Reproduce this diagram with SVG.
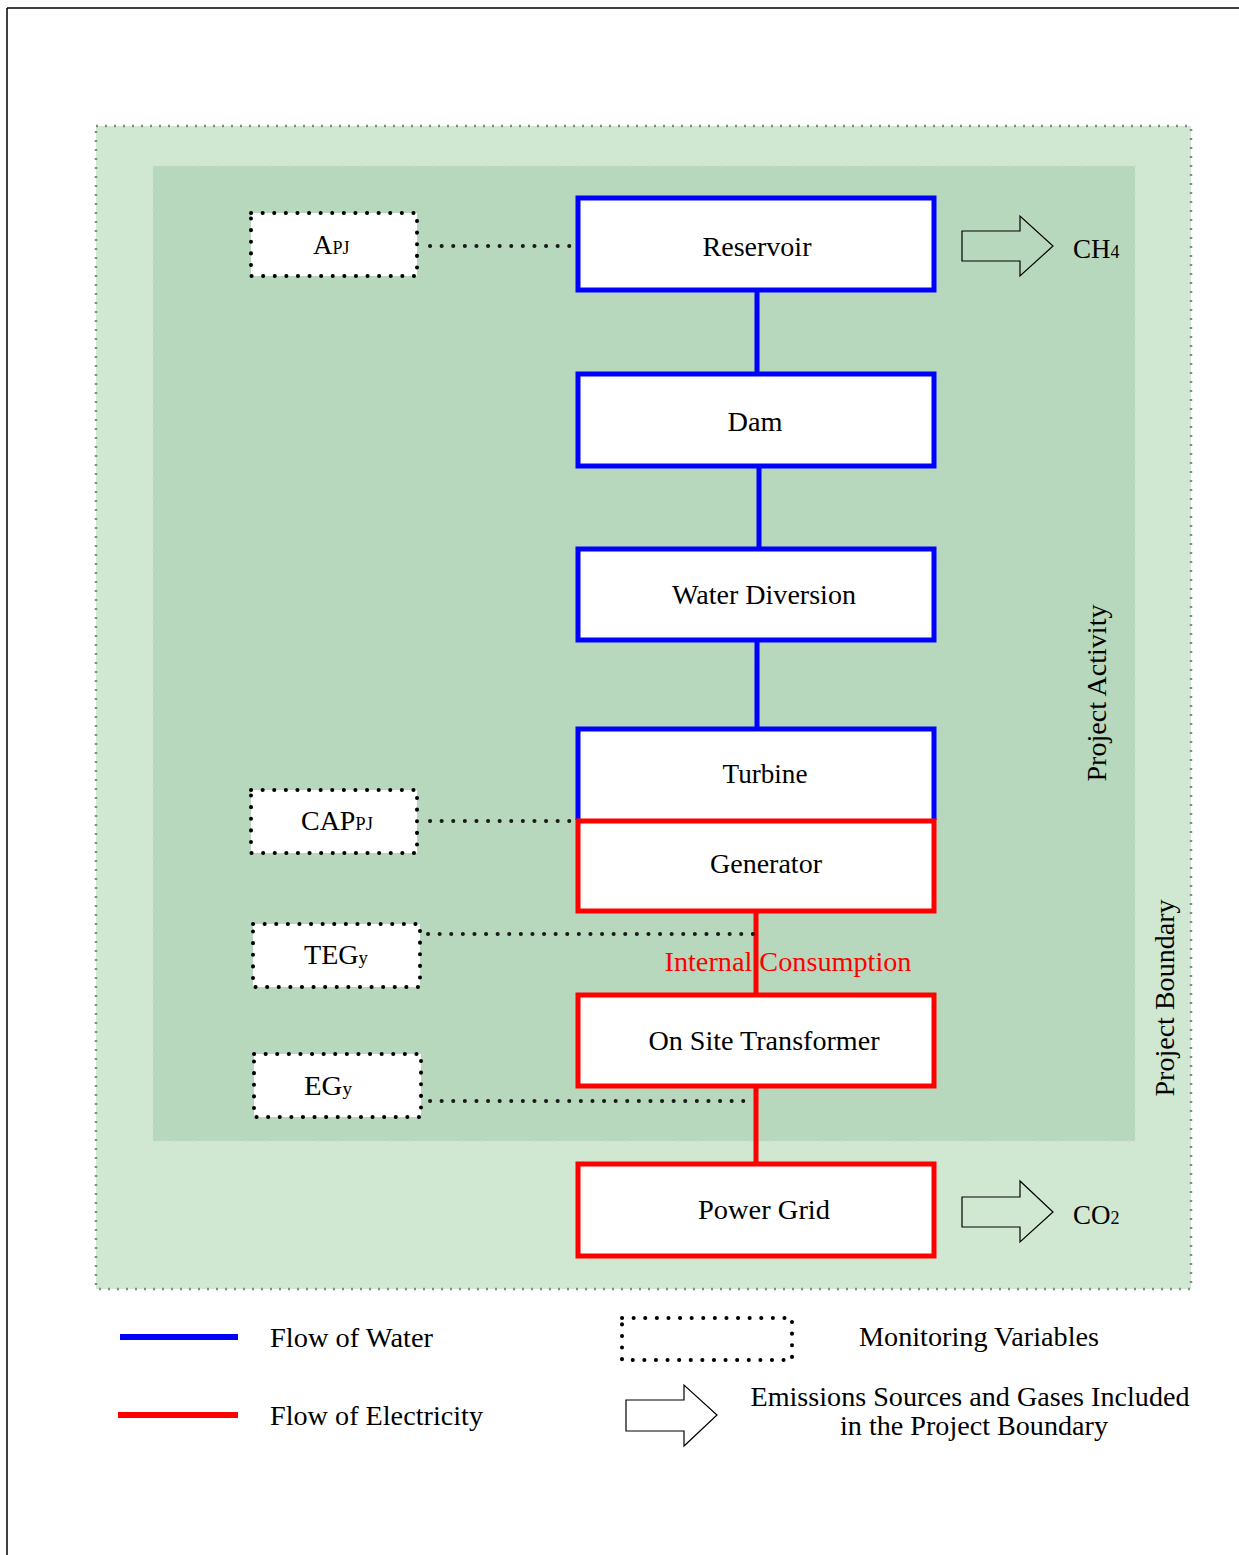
<svg xmlns="http://www.w3.org/2000/svg" width="1239" height="1555" viewBox="0 0 1239 1555" font-family="'Liberation Serif', 'DejaVu Serif', 'Times New Roman', serif">
<style>
text{font-family:'Liberation Serif','DejaVu Serif','Times New Roman',serif;fill:#000;font-size:27px;}
.lbl{text-anchor:middle;}
.sm{font-size:18px;}
.blue{fill:#fff;stroke:#0000ff;stroke-width:5;}
.red{fill:#fff;stroke:#ff0000;stroke-width:5;}
.mon{fill:#fff;stroke:#000;stroke-width:4;stroke-dasharray:0.1 11.5;stroke-linecap:round;}
.dot{stroke:#1a1a1a;stroke-width:4;stroke-dasharray:0.1 11.5;stroke-linecap:round;fill:none;}
.wl{stroke:#0000ff;stroke-width:5;}
.el{stroke:#ff0000;stroke-width:5;}
.arr{fill:none;stroke:#000;stroke-width:1.2;}
</style>
<rect x="0" y="0" width="1239" height="1555" fill="#fff"/>
<g id="frame">
<line x1="7" y1="8" x2="1239" y2="8" stroke="#000" stroke-width="1.5"/>
<line x1="7" y1="8" x2="7" y2="1555" stroke="#000" stroke-width="1.5"/>
</g>
<g id="project-boundary">
<rect x="96" y="126" width="1095" height="1163" fill="#d0e8d2" stroke="#888" stroke-width="2.5" stroke-dasharray="2 7"/>
<text x="1174" y="998" text-anchor="middle" transform="rotate(-90 1174 998)" textLength="197" lengthAdjust="spacingAndGlyphs">Project Boundary</text>
</g>
<g id="project-activity">
<rect x="153" y="166" width="982" height="975" fill="#b8d8bd" stroke="#c8dcc8" stroke-width="2" stroke-dasharray="2 7"/>
<text x="1106" y="693" text-anchor="middle" transform="rotate(-90 1106 693)" textLength="177" lengthAdjust="spacingAndGlyphs">Project Activity</text>
</g>
<g id="connectors">
<line class="wl" x1="757" y1="291" x2="757" y2="373"/>
<line class="wl" x1="759" y1="467" x2="759" y2="548"/>
<line class="wl" x1="757" y1="641" x2="757" y2="727"/>
<line class="el" x1="756" y1="912" x2="756" y2="994"/>
<line class="el" x1="756" y1="1087" x2="756" y2="1163"/>
<line class="dot" x1="430" y1="246" x2="575" y2="246"/>
<line class="dot" x1="430" y1="821" x2="575" y2="821"/>
<line class="dot" x1="428" y1="934" x2="754" y2="934"/>
<line class="dot" x1="430" y1="1101" x2="754" y2="1101"/>
</g>
<g id="reservoir">
<rect class="blue" x="578" y="198" width="356" height="92"/>
<text class="lbl" x="757" y="256" textLength="109" lengthAdjust="spacingAndGlyphs">Reservoir</text>
</g>
<g id="dam">
<rect class="blue" x="578" y="374" width="356" height="92"/>
<text class="lbl" x="755" y="431" textLength="55" lengthAdjust="spacingAndGlyphs">Dam</text>
</g>
<g id="water-diversion">
<rect class="blue" x="578" y="549" width="356" height="91"/>
<text class="lbl" x="764" y="604" textLength="184" lengthAdjust="spacingAndGlyphs">Water Diversion</text>
</g>
<g id="turbine">
<path d="M578 820 V729 H934 V820" fill="#fff" stroke="#0000ff" stroke-width="5"/>
<text class="lbl" x="765" y="783" textLength="85" lengthAdjust="spacingAndGlyphs">Turbine</text>
</g>
<g id="generator">
<rect class="red" x="578" y="821" width="356" height="90"/>
<text class="lbl" x="766" y="873" textLength="112" lengthAdjust="spacingAndGlyphs">Generator</text>
</g>
<g id="internal-consumption">
<text x="788" y="971" text-anchor="middle" style="fill:#ff0000" textLength="247" lengthAdjust="spacingAndGlyphs">Internal Consumption</text>
</g>
<g id="on-site-transformer">
<rect class="red" x="578" y="995" width="356" height="91"/>
<text class="lbl" x="764" y="1050" textLength="231" lengthAdjust="spacingAndGlyphs">On Site Transformer</text>
</g>
<g id="power-grid">
<rect class="red" x="578" y="1164" width="356" height="92"/>
<text class="lbl" x="764" y="1219" textLength="132" lengthAdjust="spacingAndGlyphs">Power Grid</text>
</g>
<g id="apj">
<rect class="mon" x="251" y="213" width="166" height="63"/>
<text x="313" y="254">A<tspan class="sm">PJ</tspan></text>
</g>
<g id="cappj">
<rect class="mon" x="251" y="790" width="166" height="63"/>
<text x="301" y="830" textLength="72" lengthAdjust="spacingAndGlyphs">CAP<tspan class="sm">PJ</tspan></text>
</g>
<g id="tegy">
<rect class="mon" x="253" y="924" width="167" height="63"/>
<text x="304" y="964" textLength="64" lengthAdjust="spacingAndGlyphs">TEG<tspan class="sm">y</tspan></text>
</g>
<g id="egy">
<rect class="mon" x="254" y="1054" width="167" height="63"/>
<text x="304" y="1095" textLength="48" lengthAdjust="spacingAndGlyphs">EG<tspan class="sm">y</tspan></text>
</g>
<g id="ch4">
<path class="arr" d="M962 231 H1020 V216 L1053 246 L1020 276 V261 H962 Z"/>
<text x="1073" y="258">CH<tspan class="sm">4</tspan></text>
</g>
<g id="co2">
<path class="arr" d="M962 1197 H1020 V1181 L1053 1212 L1020 1242 V1227 H962 Z"/>
<text x="1073" y="1224">CO<tspan class="sm">2</tspan></text>
</g>
<g id="legend">
<line x1="120" y1="1337" x2="238" y2="1337" stroke="#0000ff" stroke-width="6"/>
<text x="270" y="1347" textLength="163" lengthAdjust="spacingAndGlyphs">Flow of Water</text>
<line x1="118" y1="1415" x2="238" y2="1415" stroke="#ff0000" stroke-width="6"/>
<text x="270" y="1425" textLength="213" lengthAdjust="spacingAndGlyphs">Flow of Electricity</text>
<rect class="mon" x="622" y="1318" width="170" height="42"/>
<text x="859" y="1346" textLength="240" lengthAdjust="spacingAndGlyphs">Monitoring Variables</text>
<path class="arr" d="M626 1400 H684 V1385 L717 1415 L684 1446 V1431 H626 Z"/>
<text x="970" y="1406" text-anchor="middle" textLength="439" lengthAdjust="spacingAndGlyphs">Emissions Sources and Gases Included</text>
<text x="974" y="1435" text-anchor="middle" textLength="268" lengthAdjust="spacingAndGlyphs">in the Project Boundary</text>
</g>
</svg>
